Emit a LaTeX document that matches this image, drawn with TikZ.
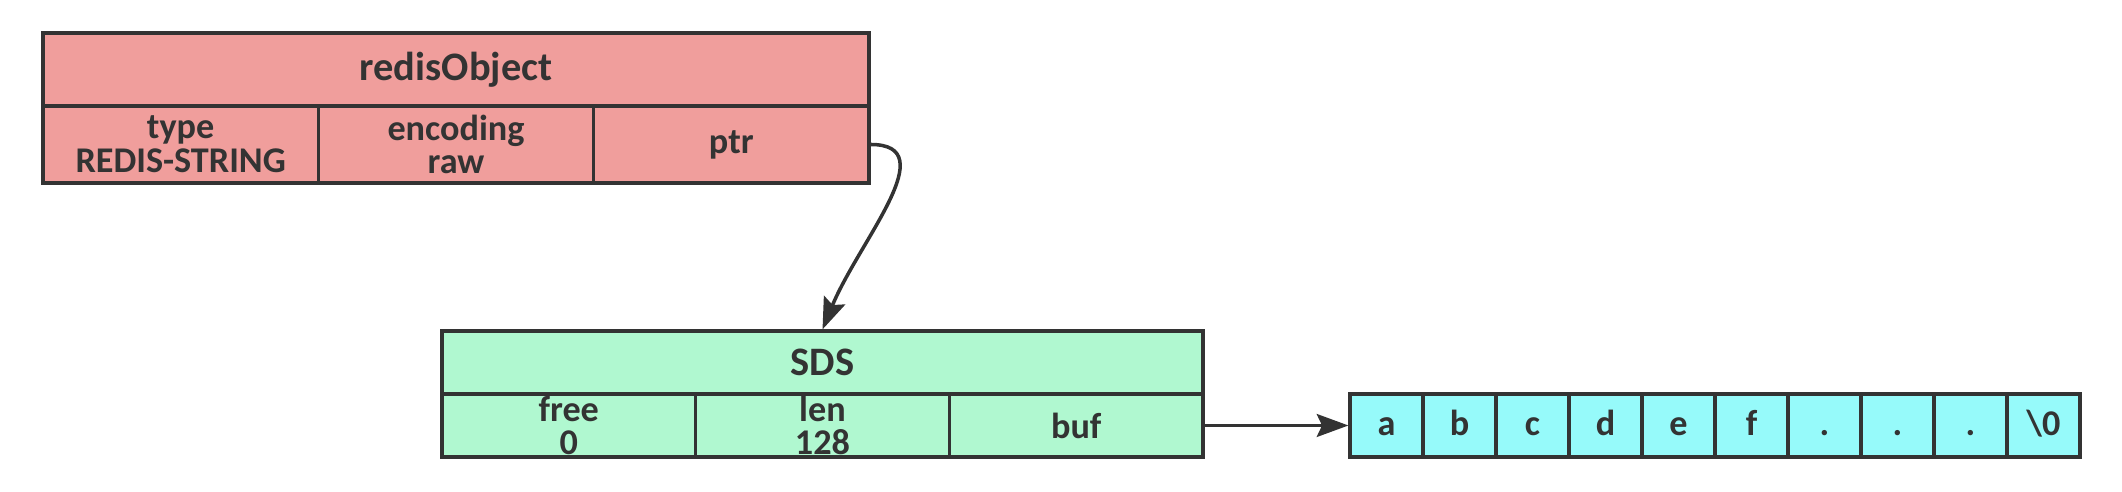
\documentclass[tikz,border=0pt]{standalone}
\usepackage{fontspec}
\setmainfont{Carlito}
\usetikzlibrary{arrows.meta}

\begin{document}
\begin{tikzpicture}[>={Stealth[length=9pt,width=6.5pt,inset=1.5pt]}]

\definecolor{objred}{RGB}{240,158,156}
\definecolor{sdsgreen}{RGB}{176,248,208}
\definecolor{bufcyan}{RGB}{150,250,250}
\definecolor{darkline}{RGB}{51,51,51}

\tikzset{
	field/.style={draw=darkline,line width=0.9pt,inner sep=0pt,
		text=darkline,align=center,
		font=\fontsize{10.3}{9.6}\selectfont\bfseries},
	head/.style={field,font=\fontsize{11.5}{13}\selectfont\bfseries},
	link/.style={->,draw=darkline,line width=1pt}
}

\useasboundingbox (0,0) rectangle (21.22,4.92);

% redisObject
\node[head,fill=objred,minimum width=8.26cm,minimum height=0.73cm]
	(robj) at (4.56,4.225) {redisObject};
\node[field,fill=objred,minimum width=2.7533cm,minimum height=0.77cm]
	(type) at (1.8067,3.475) {type\\REDIS-STRING};
\node[field,fill=objred,minimum width=2.7533cm,minimum height=0.77cm]
	(encoding) at (4.56,3.475) {encoding\\raw};
\node[field,fill=objred,minimum width=2.7533cm,minimum height=0.77cm]
	(ptr) at (7.3133,3.475) {ptr};

% SDS
\node[head,fill=sdsgreen,minimum width=7.61cm,minimum height=0.63cm]
	(sds) at (8.225,1.295) {SDS};
\node[field,fill=sdsgreen,minimum width=2.5367cm,minimum height=0.63cm]
	(free) at (5.688,0.665) {free\\0};
\node[field,fill=sdsgreen,minimum width=2.5367cm,minimum height=0.63cm]
	(len) at (8.225,0.665) {len\\128};
\node[field,fill=sdsgreen,minimum width=2.5367cm,minimum height=0.63cm]
	(buf) at (10.762,0.665) {buf};

% buf array
\foreach \c [count=\i] in {a,b,c,d,e,f,.,.,.,\textbackslash 0}{
	\node[field,fill=bufcyan,minimum width=0.73cm,minimum height=0.63cm]
		(cell\i) at ({13.50+(\i-0.5)*0.73},0.665) {\vphantom{bg}\c};
}

\draw[link] (ptr.east) .. controls (9.45,3.475) and (8.59,2.51) .. (sds.north);
\draw[link] (buf.east) -- (cell1.west);

\end{tikzpicture}
\end{document}
